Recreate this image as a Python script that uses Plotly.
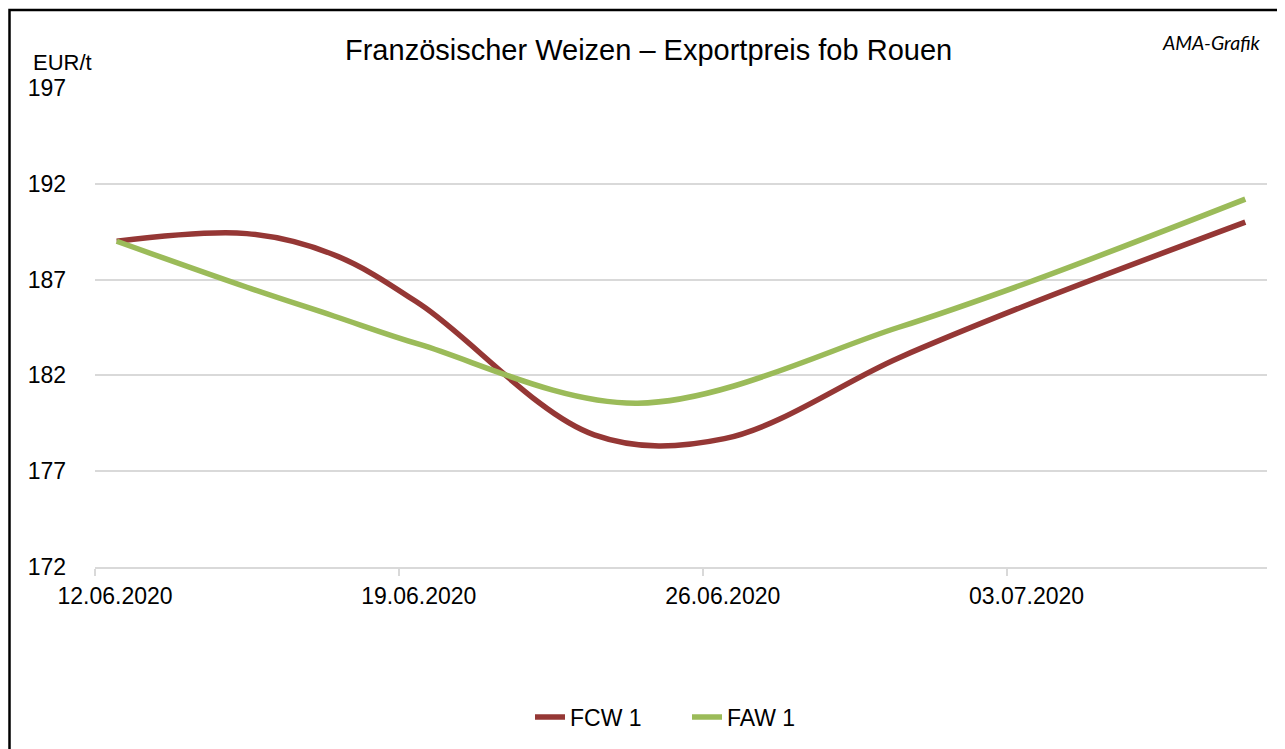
import pandas as pd
import plotly.graph_objects as go

# ---- data ----
fcw_dates = ["2020-06-12", "2020-06-15", "2020-06-17", "2020-06-19", "2020-06-23",
             "2020-06-26", "2020-06-30", "2020-07-03", "2020-07-08"]
fcw1 = [189.0, 189.4, 188.3, 185.7, 178.9, 178.7, 182.9, 185.7, 190.0]
faw_dates = ["2020-06-12", "2020-06-15", "2020-06-17", "2020-06-19",
             "2020-06-24", "2020-06-30", "2020-07-03", "2020-07-08"]
faw1 = [189.0, 186.6, 185.1, 183.6, 180.55, 184.5, 186.85, 191.2]
series_names = ["FCW 1", "FAW 1"]
tick_labels = ["12.06.2020", "19.06.2020", "26.06.2020", "03.07.2020"]
y_ticks = [172, 177, 182, 187, 192, 197]

title_text = "Französischer Weizen – Exportpreis fob Rouen"
unit_text = "EUR/t"
credit_text = "AMA-Grafik"

RED = "#953735"
GREEN = "#9BBB59"
GRID = "#D9D9D9"
FONT = "Liberation Sans, Arial, sans-serif"

x_fcw = pd.to_datetime(fcw_dates)
x_faw = pd.to_datetime(faw_dates)
half_day = pd.Timedelta(hours=12)
tick_vals = [pd.to_datetime(t, format="%d.%m.%Y") - half_day for t in tick_labels]
x_range = [min(x_fcw.min(), x_faw.min()) - half_day, max(x_fcw.max(), x_faw.max()) + half_day]

fig = go.Figure()
for name, xs, vals, col in [(series_names[0], x_fcw, fcw1, RED),
                            (series_names[1], x_faw, faw1, GREEN)]:
    fig.add_trace(go.Scatter(
        x=xs, y=vals, name=name, mode="lines",
        line=dict(color=col, width=5.5, shape="spline", smoothing=1.0),
        hoverinfo="skip",
    ))

OFF = 8  # page body margin
W, H = 1285, 749
# plot area in page pixels: x 95..1267, y 88..567
PX0, PX1, PY0, PY1 = 95, 1267, 88, 567
L = PX0 - OFF
T = PY0 - OFF
R = W - (PX1 - OFF)
B = H - (PY1 - OFF)
pw, ph = PX1 - PX0, PY1 - PY0

def px_x(p):
    return (p - PX0) / pw

def px_y(p):
    return (PY1 - p) / ph

fig.update_layout(
    width=W, height=H,
    margin=dict(l=L, r=R, t=T, b=B),
    paper_bgcolor="white", plot_bgcolor="white",
    font=dict(family=FONT, size=23, color="#000000"),
    showlegend=True,
    legend=dict(orientation="h", x=px_x(530), y=px_y(717),
                xanchor="left", yanchor="middle", entrywidth=112,
                font=dict(size=23), bgcolor="rgba(0,0,0,0)"),
    xaxis=dict(
        type="date", range=x_range,
        tickmode="array", tickvals=tick_vals, ticktext=tick_labels,
        ticks="outside", ticklen=7, tickcolor=GRID, tickwidth=1.5,
        ticklabelshift=20, ticklabelstandoff=1,
        showgrid=False, showline=True, linecolor=GRID, linewidth=1.5,
        zeroline=False, tickfont=dict(size=23),
    ),
    yaxis=dict(
        range=[172, 197], tickmode="array", tickvals=y_ticks,
        ticktext=[str(v) for v in y_ticks],
        showgrid=True, gridcolor=GRID, gridwidth=1.5,
        zeroline=False, showline=False, ticks="",
        ticklabelstandoff=28, tickfont=dict(size=23),
    ),
)

fig.add_annotation(text=title_text, xref="paper", yref="paper",
                   x=px_x(648), y=px_y(50), xanchor="center", yanchor="middle",
                   showarrow=False, font=dict(size=29, family=FONT))
fig.add_annotation(text=unit_text, xref="paper", yref="paper",
                   x=px_x(62), y=px_y(63), xanchor="center", yanchor="middle",
                   showarrow=False, font=dict(size=22, family=FONT))
fig.add_annotation(text="<i>" + credit_text + "</i>", xref="paper", yref="paper",
                   x=px_x(1263), y=px_y(42), xanchor="right", yanchor="middle",
                   showarrow=False, font=dict(size=19.5, family="Lato, Carlito, sans-serif"))

# outer chart border (cropped at right and bottom in the reference)
fig.add_shape(type="rect", xref="paper", yref="paper",
              x0=px_x(9.5), x1=px_x(1310), y0=px_y(780), y1=px_y(10),
              line=dict(color="black", width=2.5), fillcolor="rgba(0,0,0,0)",
              layer="above")

fig.write_html("out.html")
